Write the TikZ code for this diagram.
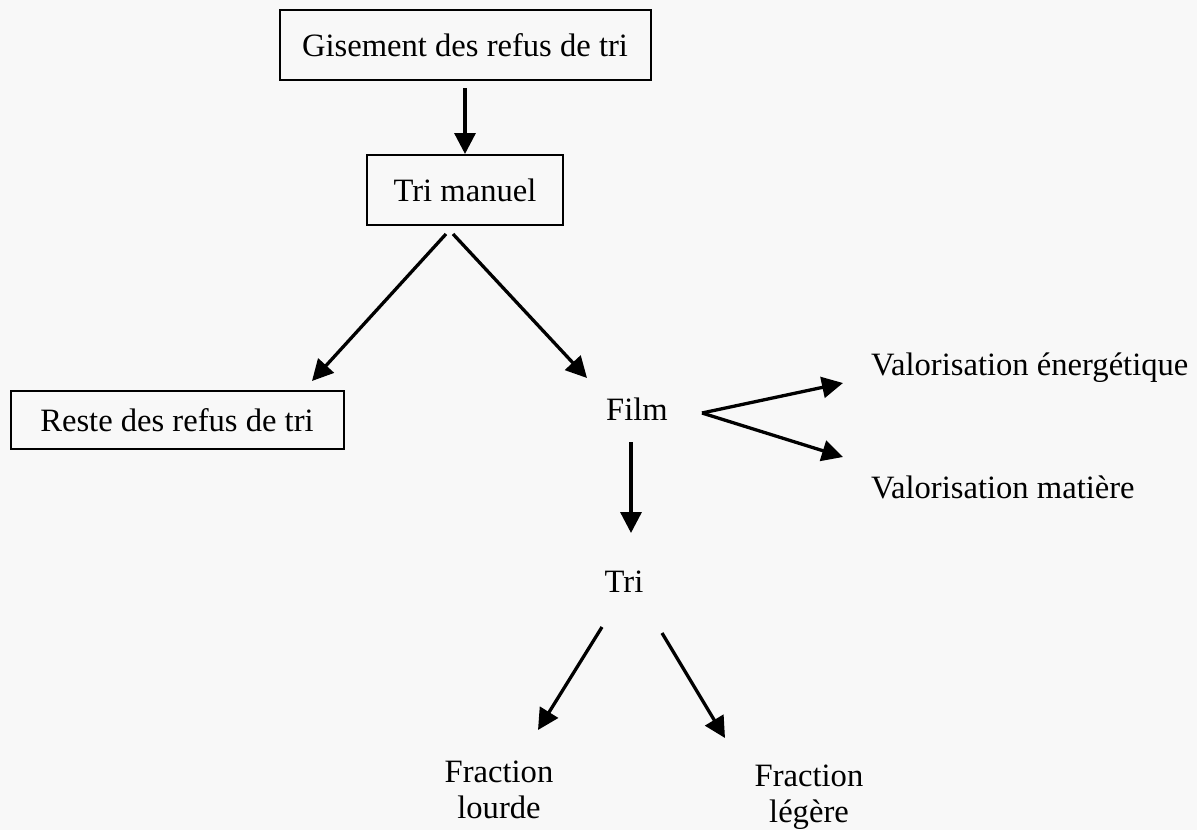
\documentclass[tikz,border=0pt]{standalone}
\usepackage{fontspec}
\setmainfont{Liberation Serif}
\usetikzlibrary{arrows.meta}
\definecolor{paper}{RGB}{248,248,248}
\begin{document}
\begin{tikzpicture}[x=1pt,y=-1pt,
  every node/.style={font=\fontsize{32.6}{36}\selectfont, inner sep=0pt},
  box/.style={draw, line width=2pt},
  arr/.style={line width=3.3pt, -{Triangle[length=21pt,width=21pt]}}]
  % page
  \fill[paper] (0,0) rectangle (1197,830);
  \useasboundingbox (0,0) rectangle (1197,830);

  % boxes
  \node[box, minimum width=371pt, minimum height=70pt] (gis) at (465,45) {Gisement des refus de tri};
  \node[box, minimum width=196pt, minimum height=70pt] (tm) at (465,190) {Tri manuel};
  \node[box, minimum width=333pt, minimum height=58pt] (reste) at (177,420) {Reste des refus de tri};

  % plain labels
  \node[anchor=base] (film) at (637,420) {Film};
  \node[anchor=base] (tri) at (624,592) {Tri};
  \node[anchor=base west] (ve) at (871,375) {Valorisation énergétique};
  \node[anchor=base west] (vm) at (871,498) {Valorisation matière};
  \node[align=center] (fl) at (499,790) {Fraction\\lourde};
  \node[align=center] (fg) at (809,797) {Fraction\\légère};

  % connector ends
  \coordinate (tmL) at (446,234);
  \coordinate (tmR) at (453,234);
  \coordinate (resteIn) at (312,381);
  \coordinate (filmIn) at (587,378);
  \coordinate (filmOut) at (702,413);
  \coordinate (veIn) at (843,383);
  \coordinate (vmIn) at (843,457);
  \coordinate (filmDown) at (631,442);
  \coordinate (triUp) at (631,533);
  \coordinate (triL) at (602,627);
  \coordinate (triR) at (662,633);
  \coordinate (flIn) at (538,730);
  \coordinate (fgIn) at (725,738);

  % connectors
  \draw[arr, shorten <=7pt] (gis) -- (tm);
  \draw[arr] (tmL) -- (resteIn);
  \draw[arr] (tmR) -- (filmIn);
  \draw[arr] (filmOut) -- (veIn);
  \draw[arr] (filmOut) -- (vmIn);
  \draw[arr] (filmDown) -- (triUp);
  \draw[arr] (triL) -- (flIn);
  \draw[arr] (triR) -- (fgIn);
\end{tikzpicture}
\end{document}
